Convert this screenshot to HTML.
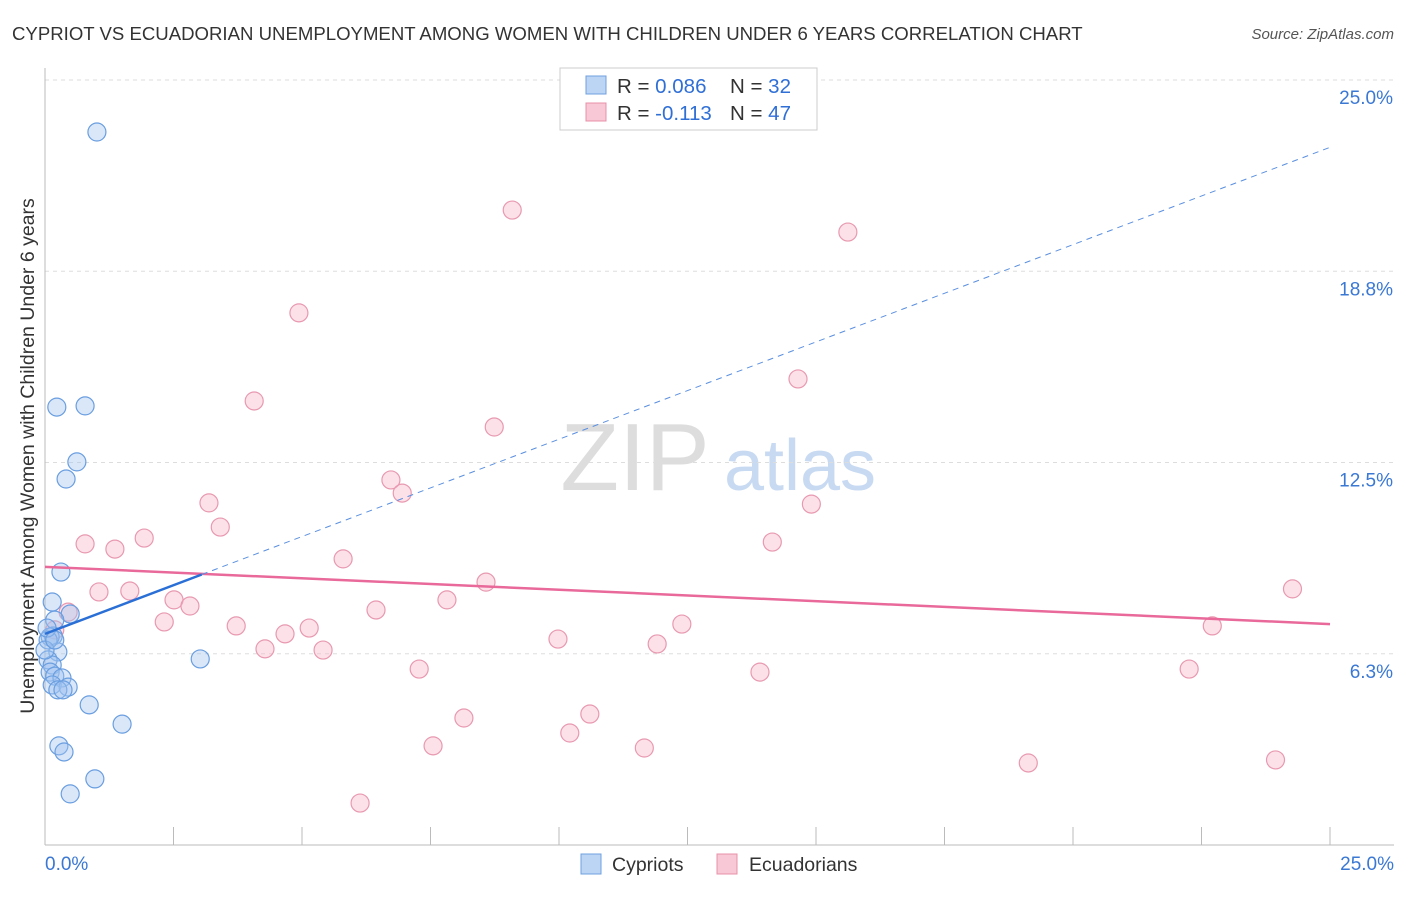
<!DOCTYPE html>
<html><head><meta charset="utf-8"><style>
body{margin:0;background:#fff;font-family:"Liberation Sans",sans-serif;}
svg text{font-family:"Liberation Sans",sans-serif;}
</style></head><body>
<svg width="1406" height="892" id="chart">
<text x="12" y="40" font-size="18.6" fill="#333">CYPRIOT VS ECUADORIAN UNEMPLOYMENT AMONG WOMEN WITH CHILDREN UNDER 6 YEARS CORRELATION CHART</text>
<text x="1394" y="39" font-size="15" fill="#555" font-style="italic" text-anchor="end">Source: ZipAtlas.com</text>
<text x="635" y="490" font-size="96" fill="#ddd" font-family="Liberation Serif" text-anchor="middle">ZIP</text>
<text x="800" y="490" font-size="72" fill="#c8daf2" text-anchor="middle">atlas</text>
<g id="grid"></g>
<g id="marks"></g>
<text transform="translate(34,456) rotate(-90)" font-size="19.5" fill="#333" text-anchor="middle">Unemployment Among Women with Children Under 6 years</text>
<g>
<rect x="560" y="68" width="257" height="62" fill="#fff" stroke="#ccc"/>
<rect x="586" y="76" width="20" height="18" fill="#bcd5f5" stroke="#6fa0e0"/>
<rect x="586" y="103" width="20" height="18" fill="#f9c8d6" stroke="#e890a8"/>
<text x="617" y="93" font-size="20.5" fill="#333">R = <tspan fill="#2f6fd6">0.086</tspan><tspan x="730">N = </tspan><tspan fill="#2f6fd6">32</tspan></text>
<text x="617" y="120" font-size="20.5" fill="#333">R = <tspan fill="#2f6fd6">-0.113</tspan><tspan x="730">N = </tspan><tspan fill="#2f6fd6">47</tspan></text>
</g>
<g>
<rect x="581" y="854" width="20" height="20" fill="#bcd5f5" stroke="#6fa0e0"/>
<text x="612" y="871" font-size="19.5" fill="#333">Cypriots</text>
<rect x="717" y="854" width="20" height="20" fill="#f9c8d6" stroke="#e890a8"/>
<text x="749" y="871" font-size="19.5" fill="#333">Ecuadorians</text>
</g>
</svg>
<script>
const yTicks=[6.25,12.5,18.75,25];
const yTickLabels=["6.3%","12.5%","18.8%","25.0%"];
const xTickLabels=["0.0%","25.0%"];
const blueX=[1.01,0.23,0.78,0.62,0.41,0.31,0.14,0.49,0.19,0.16,0.10,0.25,0.06,0.14,0.10,0.19,0.33,0.14,0.45,0.25,0.35,0.86,1.50,0.27,0.37,0.97,0.49,3.02,0.06,0.0,0.04,0.19];
const blueY=[23.30,14.31,14.35,12.52,11.96,8.92,7.94,7.55,7.35,6.83,6.80,6.31,6.05,5.88,5.65,5.52,5.46,5.23,5.16,5.07,5.07,4.58,3.95,3.24,3.04,2.16,1.67,6.08,6.70,6.37,7.09,6.70];
const pinkX=[9.09,15.62,4.94,4.07,14.65,8.74,6.73,6.95,3.19,14.91,3.41,0.78,1.36,1.93,14.15,5.80,1.05,1.65,24.27,8.58,2.51,2.82,7.82,6.44,0.45,2.32,3.72,5.14,4.67,12.39,22.71,9.98,11.91,4.28,5.41,7.28,13.91,22.26,8.15,10.60,10.21,7.55,11.66,19.13,23.94,6.13,0.19];
const pinkY=[20.75,20.03,17.39,14.51,15.23,13.66,11.93,11.50,11.18,11.14,10.39,9.84,9.67,10.03,9.90,9.35,8.27,8.30,8.37,8.59,8.01,7.81,8.01,7.68,7.61,7.29,7.16,7.09,6.90,7.22,7.16,6.73,6.57,6.41,6.37,5.75,5.65,5.75,4.15,4.28,3.66,3.24,3.17,2.68,2.78,1.37,7.03];
const blueTrend=[6.90,0.636];
const pinkTrend=[9.09,-0.0748];
const blueSolidEnd=3.05;
const NS="http://www.w3.org/2000/svg";
const sx=v=>45+v/25*1285;
const sy=v=>845-v/25*765;
function mk(tag,attrs,parent){const e=document.createElementNS(NS,tag);for(const k in attrs)e.setAttribute(k,attrs[k]);parent.appendChild(e);return e;}
const grid=document.getElementById('grid'),marks=document.getElementById('marks');
yTicks.forEach((t,i)=>{
 const l=mk('line',{x1:45,x2:1394,y1:sy(t),y2:sy(t),stroke:'#ddd','stroke-dasharray':'4,4'},grid);
 
 
 const tx=mk('text',{x:1393,y:sy(t)+24,'font-size':19,fill:'#3a78d4','text-anchor':'end'},grid);
 tx.textContent=yTickLabels[i];
 
 
});
const ax=mk('line',{x1:45,x2:45,y1:68,y2:845,stroke:'#bbb'},grid);


const bx=mk('line',{x1:45,x2:1394,y1:845,y2:845,stroke:'#bbb'},grid);


for(let i=1;i<=10;i++){
 const t=mk('line',{x1:sx(i*2.5),x2:sx(i*2.5),y1:827,y2:845,stroke:'#bbb'},grid);
 
 
}
[[0,'start',45],[25,'end',1394]].forEach((d,i)=>{
 const t=mk('text',{x:d[2],y:870,'font-size':19,fill:'#3a78d4','text-anchor':d[1]},grid);
 t.textContent=xTickLabels[i];
 
 
});
pinkX.forEach((x,i)=>{
 const c=mk('circle',{cx:sx(x),cy:sy(pinkY[i]),r:9,fill:'rgba(247,180,200,0.4)',stroke:'#e899b0','stroke-width':1.2},marks);
 
 
});
blueX.forEach((x,i)=>{
 const c=mk('circle',{cx:sx(x),cy:sy(blueY[i]),r:9,fill:'rgba(160,195,240,0.4)',stroke:'#6a9ee0','stroke-width':1.2},marks);
 
 
});
const pl=mk('line',{x1:sx(0),y1:sy(pinkTrend[0]),x2:sx(25),y2:sy(pinkTrend[0]+pinkTrend[1]*25),stroke:'#e8699a','stroke-width':2.5},marks);


const bs=mk('line',{x1:sx(0),y1:sy(blueTrend[0]),x2:sx(blueSolidEnd),y2:sy(blueTrend[0]+blueTrend[1]*blueSolidEnd),stroke:'#2a6fd6','stroke-width':2.5},marks);


const bd=mk('line',{x1:sx(blueSolidEnd),y1:sy(blueTrend[0]+blueTrend[1]*blueSolidEnd),x2:sx(25),y2:sy(blueTrend[0]+blueTrend[1]*25),stroke:'#5a8fe0','stroke-width':1,'stroke-dasharray':'6,5'},marks);


</script>
</body></html>
